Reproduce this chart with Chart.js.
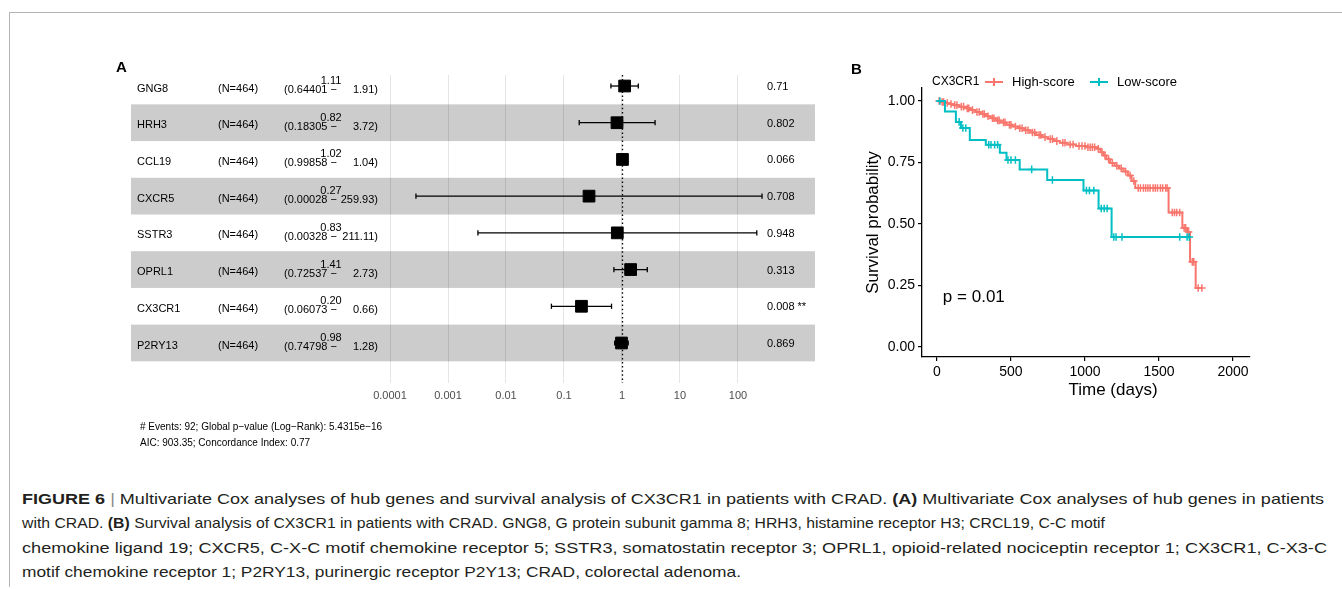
<!DOCTYPE html>
<html>
<head>
<meta charset="utf-8">
<script src="https://cdn.jsdelivr.net/npm/chart.js@4.4.0/dist/chart.umd.min.js"></script>
<style>
  body { margin: 0; background: #fff; }
  #page { position: relative; width: 1342px; height: 589px; overflow: hidden; font-family: "Liberation Sans", Arial, sans-serif; }
  .rule-top { position: absolute; left: 9px; top: 12px; width: 1333px; height: 1px; background: #b4b4b4; }
  .rule-left { position: absolute; left: 9px; top: 12px; width: 1px; height: 575px; background: #b4b4b4; }
  canvas { position: absolute; }
  .cap { position: absolute; left: 22px; white-space: nowrap; font-family: "Liberation Sans Narrow", "Arial Narrow", "Liberation Sans", sans-serif;
         font-size: 15px; line-height: 18px; color: #231f20; transform-origin: 0 50%; }
  .cap b { font-weight: bold; }
  .cap .bar { color: #8a8a8a; }
</style>
</head>
<body>
<div id="page">
  <div class="rule-top"></div>
  <div class="rule-left"></div>
  <canvas id="forest" width="840" height="470" style="left:0;top:0;width:840px;height:470px"></canvas>
  <canvas id="km" width="502" height="380" style="left:840px;top:40px;width:502px;height:380px"></canvas>
  <div class="cap" data-w="1302" style="top:490px"><b>FIGURE 6</b> <span class="bar">|</span> Multivariate Cox analyses of hub genes and survival analysis of CX3CR1 in patients with CRAD. <b>(A)</b> Multivariate Cox analyses of hub genes in patients</div>
  <div class="cap" data-w="1083" style="top:514px">with CRAD. <b>(B)</b> Survival analysis of CX3CR1 in patients with CRAD. GNG8, G protein subunit gamma 8; HRH3, histamine receptor H3; CRCL19, C-C motif</div>
  <div class="cap" data-w="1305" style="top:539px">chemokine ligand 19; CXCR5, C-X-C motif chemokine receptor 5; SSTR3, somatostatin receptor 3; OPRL1, opioid-related nociceptin receptor 1; CX3CR1, C-X3-C</div>
  <div class="cap" data-w="719" style="top:563px">motif chemokine receptor 1; P2RY13, purinergic receptor P2Y13; CRAD, colorectal adenoma.</div>
</div>
<script>
// ---- panel A: multivariate Cox (forest plot) ----
const genes = ['GNG8', 'HRH3', 'CCL19', 'CXCR5', 'SSTR3', 'OPRL1', 'CX3CR1', 'P2RY13'];
const nPatients = [464, 464, 464, 464, 464, 464, 464, 464];
const hazardRatio = [1.11, 0.82, 1.02, 0.27, 0.83, 1.41, 0.20, 0.98];
const ciLow = [0.64401, 0.18305, 0.99858, 0.00028, 0.00328, 0.72537, 0.06073, 0.74798];
const ciHigh = [1.91, 3.72, 1.04, 259.93, 211.11, 2.73, 0.66, 1.28];
const pValues = ['0.71', '0.802', '0.066', '0.708', '0.948', '0.313', '0.008 **', '0.869'];
const forestTicks = [0.0001, 0.001, 0.01, 0.1, 1, 10, 100];
const forestTickLabels = ['0.0001', '0.001', '0.01', '0.1', '1', '10', '100'];
const footerLines = ['# Events: 92; Global p\u2212value (Log\u2212Rank): 5.4315e\u221216',
                     'AIC: 903.35; Concordance Index: 0.77'];

// ---- panel B: Kaplan-Meier, CX3CR1 score ----
const highTime = [0, 20, 50, 80, 110, 150, 190, 225, 260, 295, 330, 360, 395, 430, 470, 510, 550, 590, 630, 670,
                  710, 750, 790, 830, 880, 940, 1010, 1080, 1105, 1125, 1145, 1170, 1200, 1230, 1260, 1290, 1315,
                  1340, 1565, 1658, 1690, 1710, 1748, 1790];
const highSurv = [1, 0.996, 0.992, 0.988, 0.983, 0.977, 0.970, 0.963, 0.955, 0.947, 0.938, 0.930, 0.921, 0.913,
                  0.903, 0.896, 0.889, 0.881, 0.872, 0.862, 0.853, 0.845, 0.837, 0.830, 0.823, 0.817, 0.812, 0.806,
                  0.792, 0.778, 0.763, 0.748, 0.737, 0.726, 0.713, 0.697, 0.675, 0.646, 0.547, 0.484, 0.467, 0.346,
                  0.240, 0.240];
const highCensor = [15, 35, 45, 70, 95, 120, 135, 165, 180, 205, 215, 240, 270, 285, 310, 320, 345, 375, 385, 410,
                    420, 450, 460, 490, 500, 530, 560, 575, 600, 615, 645, 660, 690, 700, 730, 765, 780, 810, 850,
                    865, 900, 920, 960, 980, 1000, 1020, 1035, 1050, 1065, 1090, 1115, 1135, 1160, 1185, 1215, 1245,
                    1275, 1305, 1330, 1360, 1375, 1395, 1410, 1425, 1440, 1460, 1475, 1490, 1510, 1525, 1545, 1555,
                    1590, 1605, 1620, 1640, 1670, 1680, 1700, 1725, 1735, 1765, 1790];
const lowTime = [0, 54, 128, 162, 222, 330, 425, 470, 559, 745, 990, 1092, 1180, 1705];
const lowSurv = [1, 0.957, 0.915, 0.89, 0.841, 0.822, 0.79, 0.76, 0.722, 0.679, 0.636, 0.563, 0.447, 0.447];
const lowCensor = [20, 150, 175, 195, 350, 365, 390, 410, 480, 500, 530, 640, 780, 1010, 1030, 1060, 1110, 1130,
                   1150, 1195, 1210, 1250, 1640, 1690, 1705];
const groupNames = ['High-score', 'Low-score'];
const timeTicks = [0, 500, 1000, 1500, 2000];
const survTicks = [0, 0.25, 0.5, 0.75, 1];
const pvalText = 'p = 0.01';

const FONT = '"Liberation Sans", Arial, sans-serif';
const RED = '#F8766D';
const TEAL = '#00BFC4';

// KM value at time t (last step at or before t)
function survAt(times, survs, t) {
  let v = survs[0];
  for (let i = 0; i < times.length; i++) if (times[i] <= t) v = survs[i];
  return v;
}

// ---------------- forest plot ----------------
const rowBands = {
  id: 'rowBands',
  beforeDraw(chart) {
    const { ctx, chartArea: a, scales: { y } } = chart;
    ctx.save();
    ctx.fillStyle = '#cccccc';
    genes.forEach((g, i) => {
      if (i % 2 === 1) {
        const y0 = y.getPixelForValue(i + 0.5), y1 = y.getPixelForValue(i + 1.5);
        ctx.fillRect(a.left, y0, a.right - a.left, y1 - y0);
      }
    });
    ctx.restore();
  },
  beforeDatasetsDraw(chart) {
    // reference line at HR = 1
    const { ctx, chartArea: a, scales: { x } } = chart;
    const px = Math.round(x.getPixelForValue(1)) + 0.5;
    ctx.save();
    ctx.strokeStyle = '#000';
    ctx.lineWidth = 1.3;
    ctx.setLineDash([1.5, 2.6]);
    ctx.beginPath();
    ctx.moveTo(px, a.top);
    ctx.lineTo(px, a.bottom);
    ctx.stroke();
    ctx.restore();
  },
  afterDraw(chart) {
    const { ctx, scales: { y } } = chart;
    ctx.save();
    ctx.fillStyle = '#000';
    ctx.textBaseline = 'middle';
    ctx.font = 'bold 15px ' + FONT;
    ctx.fillText('A', 116, 68);
    ctx.font = '11px ' + FONT;
    genes.forEach((g, i) => {
      const cy = y.getPixelForValue(i + 1);
      ctx.textAlign = 'left';
      ctx.fillText(g, 137, cy + 2.5);
      ctx.fillText('(N=' + nPatients[i] + ')', 218, cy + 2.5);
      ctx.textAlign = 'center';
      ctx.fillText(hazardRatio[i].toFixed(2), 331, cy - 5);
      ctx.textAlign = 'left';
      ctx.fillText('(' + ciLow[i].toFixed(5) + ' \u2212', 284, cy + 4);
      ctx.textAlign = 'right';
      ctx.fillText(ciHigh[i].toFixed(2) + ')', 378, cy + 4);
      ctx.textAlign = 'left';
      ctx.fillText(pValues[i], 767, cy + 1);
    });
    ctx.font = '10px ' + FONT;
    footerLines.forEach((t, k) => ctx.fillText(t, 140, 427 + k * 16));
    ctx.restore();
  }
};

const ciSets = genes.map((g, i) => ({
  type: 'line',
  data: [{ x: ciLow[i], y: i + 1 }, { x: ciHigh[i], y: i + 1 }],
  borderColor: '#000',
  borderWidth: 1.3,
  pointStyle: 'line',
  pointRotation: 90,
  pointRadius: 2.6,
  pointBorderWidth: 1.3,
  pointBorderColor: '#000',
  fill: false
}));

new Chart(document.getElementById('forest'), {
  type: 'scatter',
  data: {
    datasets: [{
      data: hazardRatio.map((v, i) => ({ x: v, y: i + 1 })),
      pointStyle: 'rect',
      pointRadius: 8.3,
      backgroundColor: '#000',
      borderColor: '#000',
      borderWidth: 1
    }, ...ciSets]
  },
  options: {
    responsive: false,
    animation: false,
    layout: { padding: { left: 131, right: 25, top: 75, bottom: 57 } },
    plugins: { legend: { display: false }, tooltip: { enabled: false } },
    scales: {
      x: {
        type: 'logarithmic',
        bounds: 'data',
        min: Math.pow(10, -8.466),
        max: Math.pow(10, 3.328),
        afterBuildTicks: s => { s.ticks = forestTicks.map(v => ({ value: v })); },
        afterFit: s => { s.height = 30; },
        grid: { color: 'rgba(0,0,0,0.1)', lineWidth: 1, drawTicks: false },
        border: { display: false },
        ticks: {
          autoSkip: false, maxRotation: 0, padding: 6, color: '#4d4d4d',
          font: { family: FONT, size: 11 },
          callback: v => forestTickLabels[forestTicks.indexOf(v)]
        }
      },
      y: { type: 'linear', min: 0.70, max: 9.09, reverse: true, display: false }
    }
  },
  plugins: [rowBands]
});

// ---------------- Kaplan-Meier ----------------
const kmText = {
  id: 'kmText',
  afterDraw(chart) {
    const { ctx, chartArea: a, scales: { x, y } } = chart;
    ctx.save();
    ctx.fillStyle = '#000';
    ctx.textBaseline = 'middle';
    ctx.font = 'bold 15px ' + FONT;
    ctx.fillText('B', 11, 30);
    // legend
    ctx.font = '12px ' + FONT;
    ctx.fillText('CX3CR1', 92, 42);
    ctx.font = '13px ' + FONT;
    [[RED, 145, groupNames[0]], [TEAL, 250, groupNames[1]]].forEach(([c, lx, name]) => {
      ctx.strokeStyle = c;
      ctx.lineWidth = 2;
      ctx.beginPath();
      ctx.moveTo(lx, 42); ctx.lineTo(lx + 18, 42);
      ctx.moveTo(lx + 9, 38); ctx.lineTo(lx + 9, 46);
      ctx.stroke();
      ctx.fillStyle = '#000';
      ctx.fillText(name, lx + 27, 42);
    });
    // p-value
    ctx.font = '17px ' + FONT;
    ctx.fillText(pvalText, x.getPixelForValue(40), y.getPixelForValue(0.2));
    // axis titles
    ctx.textAlign = 'center';
    ctx.fillText('Time (days)', 273, 350);
    ctx.translate(33, (a.top + a.bottom) / 2);
    ctx.rotate(-Math.PI / 2);
    ctx.fillText('Survival probability', 0, 0);
    ctx.restore();
  }
};

function curve(times, survs, color) {
  return {
    type: 'line',
    data: times.map((t, i) => ({ x: t, y: survs[i] })),
    stepped: 'before',
    borderColor: color,
    borderWidth: 2,
    pointRadius: 0,
    fill: false
  };
}
function marks(cens, times, survs, color) {
  return {
    type: 'scatter',
    data: cens.map(t => ({ x: t, y: survAt(times, survs, t) })),
    pointStyle: 'cross',
    pointRadius: 3.8,
    borderColor: color,
    borderWidth: 1.5
  };
}

const axisCommon = {
  grid: { drawOnChartArea: false, drawTicks: true, tickLength: 4, color: '#000', lineWidth: 1.2 },
  border: { display: true, color: '#000', width: 1.3 },
  ticks: { autoSkip: false, maxRotation: 0, padding: 3, color: '#000', font: { family: FONT, size: 14 } }
};

new Chart(document.getElementById('km'), {
  type: 'scatter',
  data: {
    datasets: [
      marks(lowCensor, lowTime, lowSurv, TEAL),
      curve(lowTime, lowSurv, TEAL),
      marks(highCensor, highTime, highSurv, RED),
      curve(highTime, highSurv, RED)
    ]
  },
  options: {
    responsive: false,
    animation: false,
    layout: { padding: { left: 20, right: 92, top: 48, bottom: 19 } },
    plugins: { legend: { display: false }, tooltip: { enabled: false } },
    scales: {
      x: {
        ...axisCommon,
        type: 'linear', min: -101, max: 2115,
        afterBuildTicks: s => { s.ticks = timeTicks.map(v => ({ value: v })); },
        afterFit: s => { s.height = 44; },
        ticks: { ...axisCommon.ticks, callback: v => String(v) }
      },
      y: {
        ...axisCommon,
        type: 'linear', min: -0.0407, max: 1.0528,
        afterBuildTicks: s => { s.ticks = survTicks.map(v => ({ value: v })); },
        afterFit: s => { s.width = 62; },
        ticks: { ...axisCommon.ticks, callback: v => v.toFixed(2) }
      }
    }
  },
  plugins: [kmText]
});

// caption lines: squeeze each line to the width it takes in the figure
document.querySelectorAll('.cap').forEach(el => {
  const w = el.getBoundingClientRect().width;
  el.style.transform = 'scaleX(' + (Number(el.dataset.w) / w) + ')';
});
</script>
</body>
</html>
